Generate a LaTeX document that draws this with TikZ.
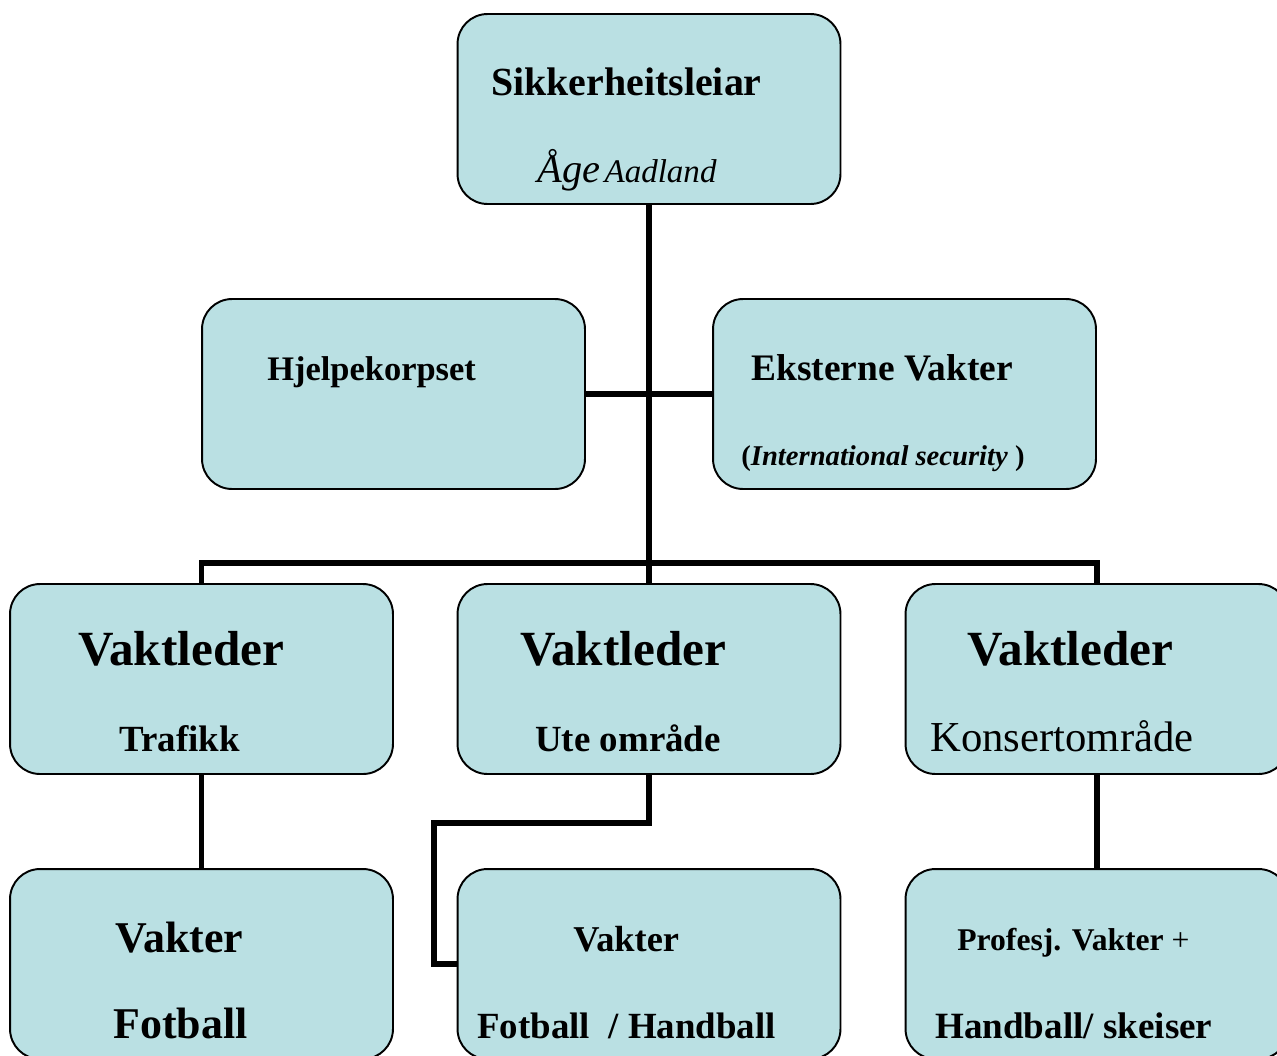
\documentclass[tikz,border=0pt]{standalone}
\usepackage{fontspec}
\setmainfont{Liberation Serif}
\usepackage{xcolor}
\usepackage{tikz}
\definecolor{B0}{HTML}{BAE0E3}

\begin{document}
\begin{tikzpicture}[x=0.02cm, y=-0.02cm,
  box/.style={draw=black, line width=1.1pt, fill=B0, rounded corners=0.6cm,
              minimum width=7.66cm, minimum height=3.8cm},
  link/.style={line width=3pt, black},
  lbl/.style={anchor=base west, inner sep=0pt}]
\useasboundingbox (0,0) rectangle (1277,1055);
%
\node[box] (leiar) at (649,109) {};
\node[box] (hjelp) at (393.5,394) {};
\node[box] (ekstern) at (904.5,394) {};
\node[box] (trafikk) at (201.5,679) {};
\node[box] (ute) at (649,679) {};
\node[box] (konsert) at (1097,679) {};
\node[box] (fotball) at (201.5,964) {};
\node[box] (handball) at (649,964) {};
\node[box] (skeiser) at (1097,964) {};
%
\draw[link] (leiar.south) -- (ute.north);
\draw[link] (hjelp.east) -- (ekstern.west);
\draw[link] (trafikk.north) -- ++(0,-20) -| (konsert.north);
\draw[link] (trafikk.south) -- (fotball.north);
\draw[link] (ute.south) -- ++(0,48) -- ++(-215,0) |- (handball.west);
\draw[link] (konsert.south) -- (skeiser.north);
%
\node[lbl, font=\bfseries\fontsize{22.7}{26}\selectfont] (leiartitle) at (491,95) {Sikkerheitsleiar};
\node[lbl] (leiarname) at (537,182) {{\itshape\fontsize{23}{27}\selectfont Åge} {\itshape\fontsize{18.8}{22}\selectfont Aadland}};
\node[lbl, font=\bfseries\fontsize{19.6}{24}\selectfont] (hjelptitle) at (267,380) {Hjelpekorpset};
\node[lbl, font=\bfseries\fontsize{21.3}{25}\selectfont] (eksterntitle) at (751,380) {Eksterne Vakter};
\node[lbl, font=\bfseries\fontsize{16.3}{20}\selectfont] (eksternsub) at (741,465) {(\textit{International security} )};
%
\node[lbl, font=\bfseries\fontsize{28}{32}\selectfont] (vlA) at (78,665) {Vaktleder};
\node[lbl, font=\bfseries\fontsize{28}{32}\selectfont] (vlB) at (520,665) {Vaktleder};
\node[lbl, font=\bfseries\fontsize{28}{32}\selectfont] (vlC) at (967,665) {Vaktleder};
\node[lbl, font=\bfseries\fontsize{21}{25}\selectfont] (trafikktext) at (119,751) {Trafikk};
\node[lbl, font=\bfseries\fontsize{21}{25}\selectfont] (utetext) at (535,751) {Ute område};
\node[lbl, font=\fontsize{24.3}{28}\selectfont] (konserttext) at (930,751) {Konsertområde};
%
\node[lbl, font=\bfseries\fontsize{25}{29}\selectfont] (vakterA) at (115,952) {Vakter};
\node[lbl, font=\bfseries\fontsize{25}{29}\selectfont] (fotballtext) at (113,1038) {Fotball};
\node[lbl, font=\bfseries\fontsize{20.7}{25}\selectfont] (vakterB) at (573,951) {Vakter};
\node[lbl, font=\bfseries\fontsize{21}{25}\selectfont] (handballtext) at (477,1038) {Fotball\ \ / Handball};
\node[lbl, font=\bfseries\fontsize{18}{22}\selectfont] (profesj) at (957,950) {Profesj. Vakter \textmd{+}};
\node[lbl, font=\bfseries\fontsize{21.1}{25}\selectfont] (skeisertext) at (935,1038) {Handball/ skeiser};
\end{tikzpicture}
\end{document}
